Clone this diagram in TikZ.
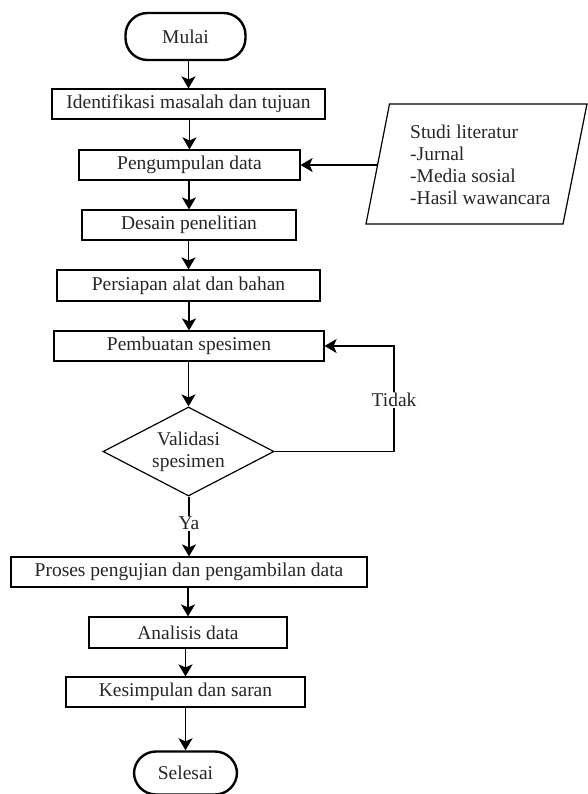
\documentclass[tikz,border=0pt]{standalone}
\usepackage{fontspec}
\setmainfont{Liberation Serif}
\usetikzlibrary{shapes.geometric,arrows.meta}
\begin{document}
\begin{tikzpicture}[x=1pt,y=-1pt,
  txt/.style={font=\fontsize{19.5}{22}\selectfont, text=black!85},
  procbox/.style={txt, draw, line width=1.2pt, inner sep=0pt, minimum height=30pt},
  termbox/.style={txt, draw, line width=2.4pt, rounded corners=22pt, inner sep=0pt},
  decbox/.style={txt, draw, diamond, aspect=1.92, line width=1.2pt, inner sep=0pt, align=center},
  arr/.style={line width=1.8pt, -{Stealth[length=12pt,width=14pt,inset=3pt]}},
  thinarr/.style={line width=1.3pt, -{Stealth[length=12pt,width=14pt,inset=3pt]}},
  lbl/.style={txt, fill=white, inner sep=1pt}]
\useasboundingbox (0,0) rectangle (587,794);

\node[termbox, minimum width=120pt, minimum height=47pt] (mulai) at (185.5,36.5) {Mulai};
\node[procbox, minimum width=273pt] (ident) at (188.5,104) {Identifikasi masalah dan tujuan};
\node[procbox, minimum width=221pt] (peng) at (189.5,165) {Pengumpulan data};
\node[procbox, minimum width=214pt] (desain) at (189,225) {Desain penelitian};
\node[procbox, minimum width=263pt, minimum height=31pt] (persiapan) at (188.5,285.5) {Persiapan alat dan bahan};
\node[procbox, minimum width=270pt] (pemb) at (189,346) {Pembuatan spesimen};
\node[decbox, minimum width=171pt, minimum height=89pt] (valid) at (188.5,451.5) {Validasi\\spesimen};
\node[procbox, minimum width=356pt] (proses) at (189,572) {Proses pengujian dan pengambilan data};
\node[procbox, minimum width=198pt, minimum height=31pt] (analisis) at (188,632.5) {Analisis data};
\node[procbox, minimum width=239pt] (kesim) at (185.5,692) {Kesimpulan dan saran};
\node[termbox, minimum width=103pt, minimum height=43pt] (selesai) at (185.5,773) {Selesai};

% literature parallelogram
\draw[line width=1.2pt] (389.5,104) -- (587,104) -- (563,224) -- (366,224) -- cycle;
\node[txt, anchor=west, align=left, inner sep=0pt] (lit) at (410,165)
  {Studi literatur\\-Jurnal\\-Media sosial\\-Hasil wawancara};
\coordinate (litin) at (378,165);

% main flow
\draw[arr] (mulai.south -| ident.north) -- (ident.north);
\draw[arr] (ident.south -| peng.north) -- (peng.north);
\draw[arr] (peng.south -| desain.north) -- (desain.north);
\draw[arr] (desain.south -| persiapan.north) -- (persiapan.north);
\draw[arr] (persiapan.south -| pemb.north) -- (pemb.north);
\draw[arr] (pemb.south -| valid.north) -- (valid.north);
\draw[arr] (valid.south -| proses.north) -- node[lbl, pos=0.45] (ya) {Ya} (proses.north);
\draw[arr] (proses.south -| analisis.north) -- (analisis.north);
\draw[arr] (analisis.south -| kesim.north) -- (kesim.north);
\draw[arr] (kesim.south -| selesai.north) -- (selesai.north);

% literature arrow
\draw[line width=1.6pt, -{Stealth[length=12pt,width=14pt,inset=3pt]}] (litin) -- (peng.east);

% Tidak loop
\coordinate (loopc) at (394,346);
\draw[thinarr] (valid.east) -| (loopc) -- (pemb.east);
\node[lbl] (tidak) at (394,400) {Tidak};
\end{tikzpicture}
\end{document}
